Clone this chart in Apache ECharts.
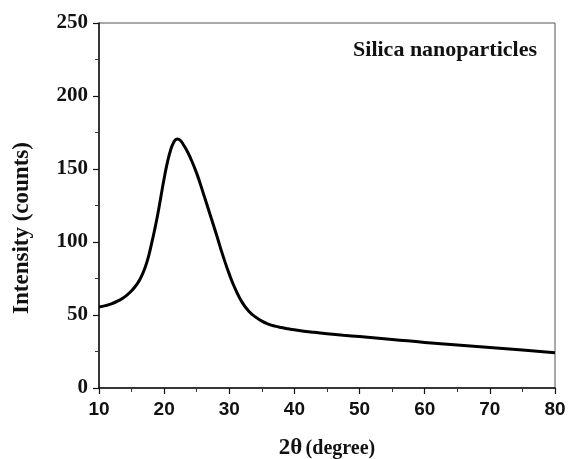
<!DOCTYPE html>
<html><head><meta charset="utf-8">
<script src="https://cdn.jsdelivr.net/npm/echarts@6/dist/echarts.min.js"></script>
<style>html,body{margin:0;padding:0;background:#fff;overflow:hidden}#c{width:569px;height:459px}</style>
</head><body><div id="c"></div>
<script>
var twoTheta = [10, 11, 12, 13, 14, 15, 15.5, 16, 16.5, 17, 17.5, 18, 18.5, 19, 19.5, 20, 20.5, 21, 21.5, 22, 22.5, 23, 23.5, 24, 25, 26, 27, 28, 29, 30, 31, 32, 33, 34, 35, 36, 37, 38, 39, 40, 42.5, 45, 47.5, 50, 55, 60, 65, 70, 75, 80];
var intensity = [55.5, 56.4, 57.8, 59.8, 62.6, 66.6, 69.2, 72.3, 76.3, 81.6, 88.5, 97.5, 107.5, 118.5, 131, 143.5, 154.5, 163, 168.5, 170.5, 169.5, 166.3, 162.5, 158, 147, 133.5, 119.5, 105.5, 91, 78, 67, 58.5, 52.6, 48.7, 45.8, 43.8, 42.4, 41.4, 40.6, 39.9, 38.4, 37.1, 36.1, 35.2, 33.3, 31.2, 29.5, 27.8, 26, 24.2];
var xTicks = [10, 20, 30, 40, 50, 60, 70, 80];
var yTicks = [0, 50, 100, 150, 200, 250];
var labelText = 'Silica nanoparticles';
var yTitle = 'Intensity (counts)';

var data = twoTheta.map(function (x, i) { return [x, intensity[i]]; });
var chart = echarts.init(document.getElementById('c'));
chart.setOption({
  animation: false,
  backgroundColor: '#fff',
  title: {
    text: labelText, right: 27, top: 34,
    textStyle: { fontFamily: 'Liberation Serif', fontWeight: 'bold', fontSize: 22, color: '#111' }
  },
  graphic: [{
    type: 'text', x: 22, y: 228, rotation: Math.PI / 2,
    style: { text: yTitle, fontFamily: 'Liberation Serif', fontWeight: 'bold', fontSize: 23, fill: '#111', textAlign: 'center', textVerticalAlign: 'middle' }
  }],
  grid: { left: 99, right: 14, top: 23, bottom: 71, containLabel: false, outerBoundsMode: 'none', show: true, borderColor: '#555', borderWidth: 1 },
  xAxis: {
    type: 'value', min: xTicks[0], max: xTicks[xTicks.length - 1], interval: 10,
    axisLine: { lineStyle: { color: '#111', width: 1.5 } },
    axisTick: { length: 6, lineStyle: { color: '#111', width: 1.2 } },
    minorTick: { show: true, splitNumber: 2, length: 4, lineStyle: { color: '#333', width: 1 } },
    splitLine: { show: false },
    axisLabel: { margin: 12, fontFamily: 'Liberation Sans', fontWeight: 'bold', fontSize: 19, color: '#111' },
    name: '{a|2θ} {b|(degree)}', nameLocation: 'middle', nameGap: 49,
    nameTextStyle: {
      rich: {
        a: { fontFamily: 'Liberation Serif', fontWeight: 'bold', fontSize: 23, color: '#111' },
        b: { fontFamily: 'Liberation Serif', fontWeight: 'bold', fontSize: 20, color: '#111' }
      }
    }
  },
  yAxis: {
    type: 'value', min: yTicks[0], max: yTicks[yTicks.length - 1], interval: 50,
    axisLine: { show: true, lineStyle: { color: '#111', width: 1.5 } },
    axisTick: { show: true, length: 6, lineStyle: { color: '#111', width: 1.2 } },
    minorTick: { show: true, splitNumber: 2, length: 4, lineStyle: { color: '#333', width: 1 } },
    splitLine: { show: false },
    axisLabel: { margin: 11, fontFamily: 'Liberation Serif', fontWeight: 'bold', fontSize: 21, color: '#111' }
  },
  series: [{
    type: 'line', data: data, smooth: true, showSymbol: false,
    lineStyle: { color: '#000', width: 3 }
  }]
});
</script></body></html>
